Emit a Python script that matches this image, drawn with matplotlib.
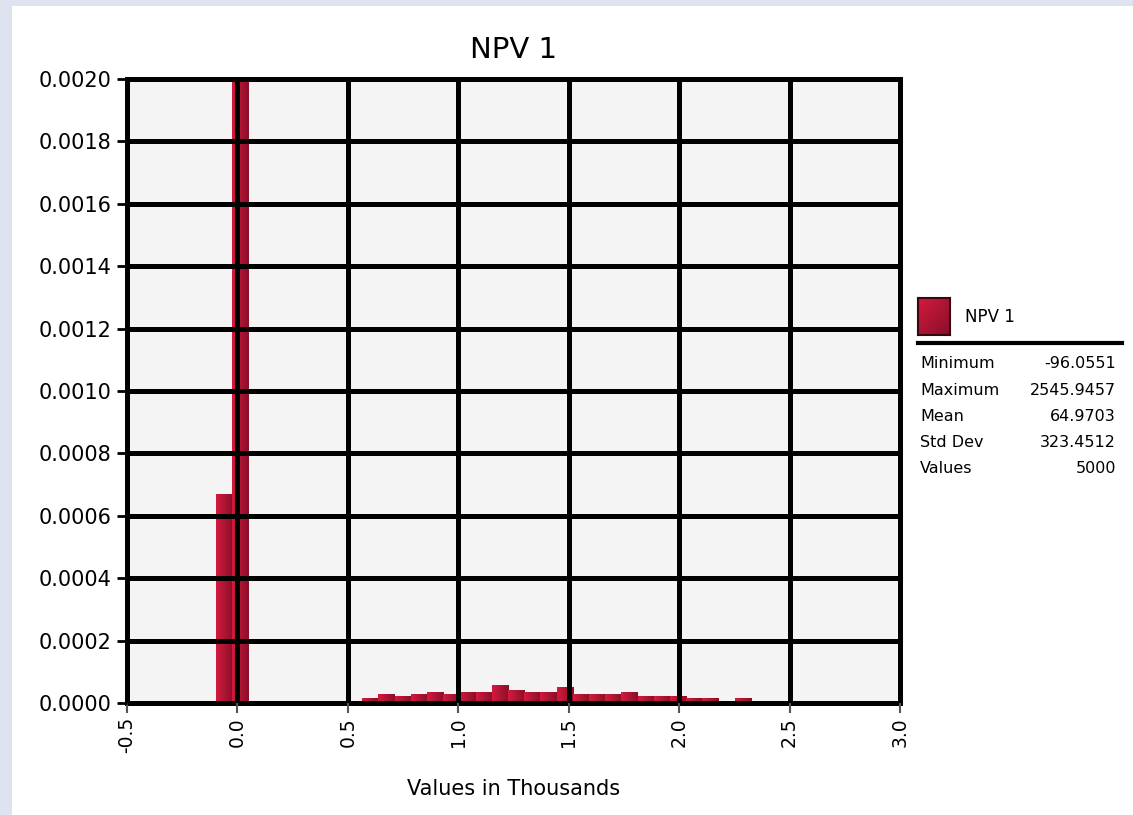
import numpy as np
import matplotlib.pyplot as plt
from matplotlib.colors import LinearSegmentedColormap
from matplotlib.lines import Line2D
from matplotlib.patches import Rectangle

# histogram of NPV 1 (values in thousands), 36 equal bins from min to max
val_min = -96.0551 / 1000.0
val_max = 2545.9457 / 1000.0
density = [0.00067, 0.0124, 0, 0, 0, 0, 0, 0, 0,
           0.000016, 0.000030, 0.000023, 0.000030, 0.000036, 0.000030,
           0.000036, 0.000036, 0.000059, 0.000043, 0.000036, 0.000036,
           0.000052, 0.000030, 0.000030, 0.000030, 0.000036, 0.000023,
           0.000023, 0.000023, 0.000016, 0.000016, 0, 0.000016, 0, 0, 0]

xticks = [-0.5, 0.0, 0.5, 1.0, 1.5, 2.0, 2.5, 3.0]
yticks = [0.0, 0.0002, 0.0004, 0.0006, 0.0008, 0.0010,
          0.0012, 0.0014, 0.0016, 0.0018, 0.0020]

stat_names = ["Minimum", "Maximum", "Mean", "Std Dev", "Values"]
stat_values = ["-96.0551", "2545.9457", "64.9703", "323.4512", "5000"]

plt.rcParams['font.family'] = 'DejaVu Sans'

W, H = 1133, 815
fig = plt.figure(figsize=(W / 100, H / 100), dpi=100)
fig.patch.set_facecolor('#dfe3f0')
fig.patches.append(Rectangle((12 / W, 0), 1, 1 - 6 / H, transform=fig.transFigure,
                             facecolor='white', edgecolor='none', zorder=-10))

ax = fig.add_axes([127 / W, 1 - 703 / H, (900 - 127) / W, (703 - 79) / H])
ax.set_facecolor('#f4f4f4')
ymax = 0.0020

red = LinearSegmentedColormap.from_list('red', ['#d31a3e', '#8a0f2a'])
grad = np.linspace(0, 1, 64).reshape(1, -1)

edges = np.linspace(val_min, val_max, len(density) + 1)
widths = np.diff(edges)
bars = ax.bar(edges[:-1], density, width=widths, align='edge',
              facecolor='none', edgecolor='none', zorder=1)
for b, h in zip(bars, density):
  if h <= 0:
    continue
  x0 = b.get_x()
  # keep the gradient inside the plot area (tall bar runs off the top)
  im = ax.imshow(grad, cmap=red, aspect='auto', zorder=1,
                 extent=[x0, x0 + b.get_width(), 0, min(h, ymax)])
  im.set_clip_path(b)

ax.set_xlim(-0.5, 3.0)
ax.set_ylim(0, ymax)
ax.set_xticks(xticks)
ax.set_xticklabels(["%.1f" % v for v in xticks], rotation=90, fontsize=13.5)
ax.set_yticks(yticks)
ax.set_yticklabels(["%.4f" % v for v in yticks], fontsize=15)
ax.grid(True, color='black', linewidth=3.6)
ax.set_axisbelow(False)
for s in ax.spines.values():
  s.set_color('black')
  s.set_linewidth(3.6)
ax.tick_params(axis='y', length=7, width=2, color='black', pad=4)
ax.tick_params(axis='x', length=7, width=1.5, color='#555555', pad=3)

fig.text(513.5 / W, 1 - 50 / H, "NPV 1", ha='center', va='center', fontsize=21)
fig.text(513.5 / W, 1 - 789 / H, "Values in Thousands", ha='center', va='center',
         fontsize=15)

# legend / stats panel
lax = fig.add_axes([918 / W, 1 - 335 / H, 32 / W, 37 / H])
yy, xx = np.mgrid[0:1:32j, 0:1:32j]
lax.imshow((xx + yy) / 2, cmap=red, aspect='auto', extent=[0, 1, 0, 1])
lax.set_xticks([])
lax.set_yticks([])
for s in lax.spines.values():
  s.set_color('#3a0610')
  s.set_linewidth(1.5)
fig.text(965 / W, 1 - 317 / H, "NPV 1", ha='left', va='center', fontsize=12)
fig.lines.append(Line2D([918 / W, 1122 / W], [1 - 343 / H, 1 - 343 / H],
                        transform=fig.transFigure, color='black', linewidth=3))
for i, (name, v) in enumerate(zip(stat_names, stat_values)):
  y = 1 - (364 + 26.2 * i) / H
  fig.text(920 / W, y, name, ha='left', va='center', fontsize=11.5)
  fig.text(1116 / W, y, v, ha='right', va='center', fontsize=11.5)

fig.savefig('out.png', dpi=100, facecolor=fig.get_facecolor())
